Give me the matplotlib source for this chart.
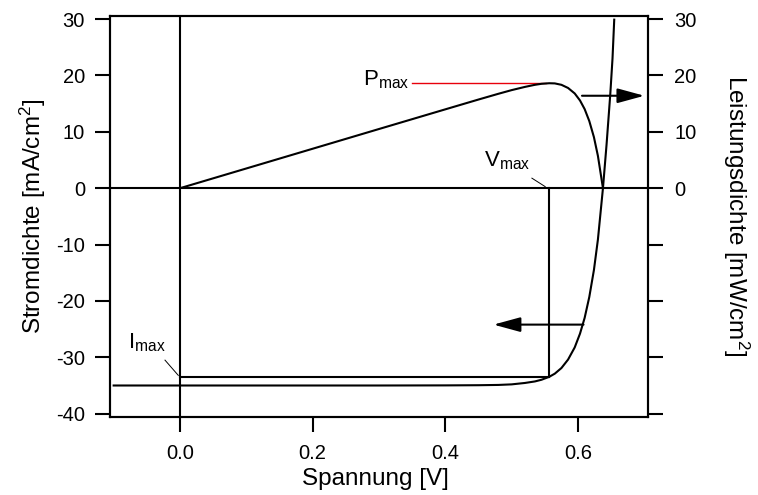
import matplotlib
matplotlib.use("Agg")
import matplotlib.pyplot as plt

plt.rcParams['font.family'] = ['Liberation Sans', 'DejaVu Sans']
plt.rcParams['mathtext.fontset'] = 'custom'
plt.rcParams['mathtext.rm'] = 'Liberation Sans'
plt.rcParams['mathtext.it'] = 'Liberation Sans:italic'
plt.rcParams['mathtext.bf'] = 'Liberation Sans:bold'

# Current density J(V) [mA/cm^2]
iv_voltage = [-0.1, 0.0, 0.1, 0.2, 0.3, 0.4, 0.45, 0.48, 0.50, 0.52, 0.535, 0.545,
              0.5566, 0.565, 0.575, 0.585, 0.595, 0.603, 0.610, 0.617, 0.624,
              0.630, 0.6376, 0.643, 0.6486, 0.652, 0.6546]
iv_current = [-35.0, -35.0, -35.0, -35.0, -35.0, -34.98, -34.95, -34.9, -34.8, -34.55,
              -34.28, -33.98, -33.46, -32.9, -31.9, -30.4, -28.25, -25.8, -23.0,
              -19.3, -14.5, -9.1, 0.0, 7.7, 16.6, 23.0, 29.9]

# Power density P(V) [mW/cm^2]
p_voltage = [0.0, 0.1, 0.2, 0.3, 0.4, 0.45, 0.48, 0.50, 0.52, 0.535, 0.545, 0.5566,
             0.565, 0.575, 0.585, 0.595, 0.603, 0.610, 0.617, 0.624, 0.630, 0.6376]
p_power = [0.0, 3.5, 7.0, 10.5, 13.99, 15.73, 16.75, 17.4, 17.97, 18.34, 18.52, 18.62,
           18.59, 18.34, 17.78, 16.81, 15.56, 14.03, 11.91, 9.05, 5.73, 0.0]

v_max = 0.5566
i_max = -33.46
p_max = 18.62

x_ticks = [0.0, 0.2, 0.4, 0.6]
x_ticklabels = ['0.0', '0.2', '0.4', '0.6']
y_ticks = [-40, -30, -20, -10, 0, 10, 20, 30]
y_ticklabels = ['-40', '-30', '-20', '-10', '0', '10', '20', '30']
y2_ticklabels = ['', '', '', '', '0', '10', '20', '30']

fig = plt.figure(figsize=(7.58, 4.95), dpi=100)
ax = fig.add_axes([110/758, 1-416.5/495, (648-110)/758, (416.5-15.7)/495])
xlim = (-0.1055, 0.7055)
ylim = (-40.5, 30.6)

lw = 1.5
ax.axhline(0, color='black', lw=lw, zorder=2)
ax.axvline(0, color='black', lw=lw, zorder=2)

ax.plot(iv_voltage, iv_current, color='black', lw=lw, zorder=3)
ax.plot(p_voltage, p_power, color='black', lw=lw, zorder=3)

# max power rectangle
ax.plot([0, v_max], [i_max, i_max], color='black', lw=lw, zorder=3)
ax.plot([v_max, v_max], [i_max, 0], color='black', lw=lw, zorder=3)

# Pmax red line
ax.plot([0.35, 0.552], [p_max, p_max], color='#e8000b', lw=1.0, zorder=2)

# labels
fs_lab = 16
ax.text(0.2755, 18.15, r'P$_{\mathrm{max}}$', fontsize=fs_lab, ha='left', va='baseline')
ax.text(0.4585, 3.9, r'V$_{\mathrm{max}}$', fontsize=fs_lab, ha='left', va='baseline')
ax.text(-0.0785, -28.45, r'I$_{\mathrm{max}}$', fontsize=fs_lab, ha='left', va='baseline')

# leader lines
ax.plot([0.5305, 0.5505], [1.78, 0.28], color='black', lw=0.7)
ax.plot([-0.0226, -0.0026], [-30.5, -33.2], color='black', lw=0.7)

# arrows
arrow_style = '-|>,head_length=1.1,head_width=0.3'
ax.annotate('', xy=(0.700, 16.4), xytext=(0.606, 16.4),
            arrowprops=dict(arrowstyle=arrow_style, color='black', lw=lw,
                            mutation_scale=15, shrinkA=0, shrinkB=0))
ax.annotate('', xy=(0.4726, -24.2), xytext=(0.6083, -24.2),
            arrowprops=dict(arrowstyle=arrow_style, color='black', lw=lw,
                            mutation_scale=15, shrinkA=0, shrinkB=0))

ax.set_xlim(*xlim)
ax.set_ylim(*ylim)
ax.set_xticks(x_ticks)
ax.set_xticklabels(x_ticklabels)
ax.set_yticks(y_ticks)
ax.set_yticklabels(y_ticklabels)

for sp in ax.spines.values():
    sp.set_linewidth(lw)

ax.tick_params(axis='both', direction='out', length=11, width=lw, labelsize=14.5, pad=7)
ax.tick_params(axis='x', pad=9)

ax2 = ax.twinx()
ax2.set_ylim(*ylim)
ax2.set_yticks(y_ticks)
ax2.set_yticklabels(y2_ticklabels)
ax2.tick_params(axis='y', direction='out', length=11, width=lw, labelsize=14.5, pad=8)
for sp in ax2.spines.values():
    sp.set_linewidth(lw)

ax.set_xlabel('Spannung [V]', fontsize=17.5, va='top')
ax.set_ylabel(r'Stromdichte [mA/cm$^{2}$]', fontsize=17.5, va='center', ha='center')
ax2.set_ylabel(r'Leistungsdichte [mW/cm$^{2}$]', fontsize=17.5, rotation=270,
               va='center', ha='center')

ax.xaxis.set_label_coords(0.493, -(468 - 416.5) / 400.8)
ax.yaxis.set_label_coords((33 - 110) / 538, 0.5)
ax2.yaxis.set_label_coords((736 - 110) / 538, 0.5)

fig.savefig('out.png', dpi=100)
